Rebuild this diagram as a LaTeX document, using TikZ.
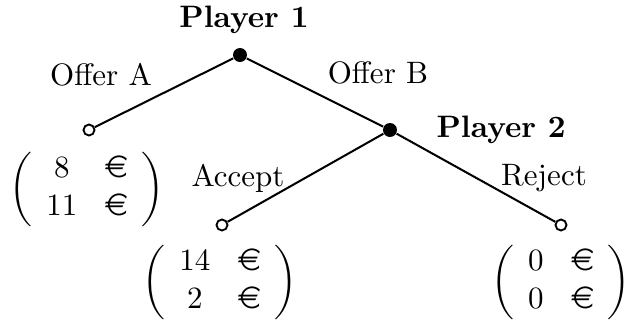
\documentclass[tikz,border=0pt]{standalone}
\usepackage{eurosym}
\begin{document}
\begin{tikzpicture}[x=0.3225pt,y=-0.3225pt,
  dec/.style={circle,fill=black,inner sep=0pt,minimum size=14*0.3225pt},
  leaf/.style={circle,draw=black,fill=white,line width=0.6pt,inner sep=0pt,minimum size=11*0.3225pt},
  edge/.style={line width=0.65pt},
  lbl/.style={inner sep=0pt},
  pay/.style={inner sep=0pt}]
\setlength{\arraycolsep}{4.5pt}
\useasboundingbox (0,0) rectangle (633,325);
\node[dec] (r) at (240,55) {};
\node[lbl] (p1) at (244,20) {\textbf{Player 1}};
\node[leaf] (a) at (89,130) {};
\node[dec] (p2n) at (390,130) {};
\node[lbl,anchor=west] (p2) at (436,130) {\textbf{Player 2}};
\node[leaf] (acc) at (222,225) {};
\node[leaf] (rej) at (561,225) {};
\draw[edge] (r) -- (a);
\draw[edge] (r) -- (p2n);
\draw[edge] (p2n) -- (acc);
\draw[edge] (p2n) -- (rej);
\node[lbl] (oa) at (101,75) {Offer A};
\node[lbl] (ob) at (378,73) {Offer B};
\node[lbl] (ac) at (238,178) {Accept};
\node[lbl] (rj) at (544,178) {Reject};
\node[pay] (pa) at (87,189) {$\left(\begin{array}{cc} 8 & \mbox{\euro} \\ 11 & \mbox{\euro}\end{array}\right)$};
\node[pay] (pacc) at (220,282) {$\left(\begin{array}{cc} 14 & \mbox{\euro} \\ 2 & \mbox{\euro}\end{array}\right)$};
\node[pay] (prej) at (561,282) {$\left(\begin{array}{cc} 0 & \mbox{\euro} \\ 0 & \mbox{\euro}\end{array}\right)$};
\end{tikzpicture}
\end{document}
